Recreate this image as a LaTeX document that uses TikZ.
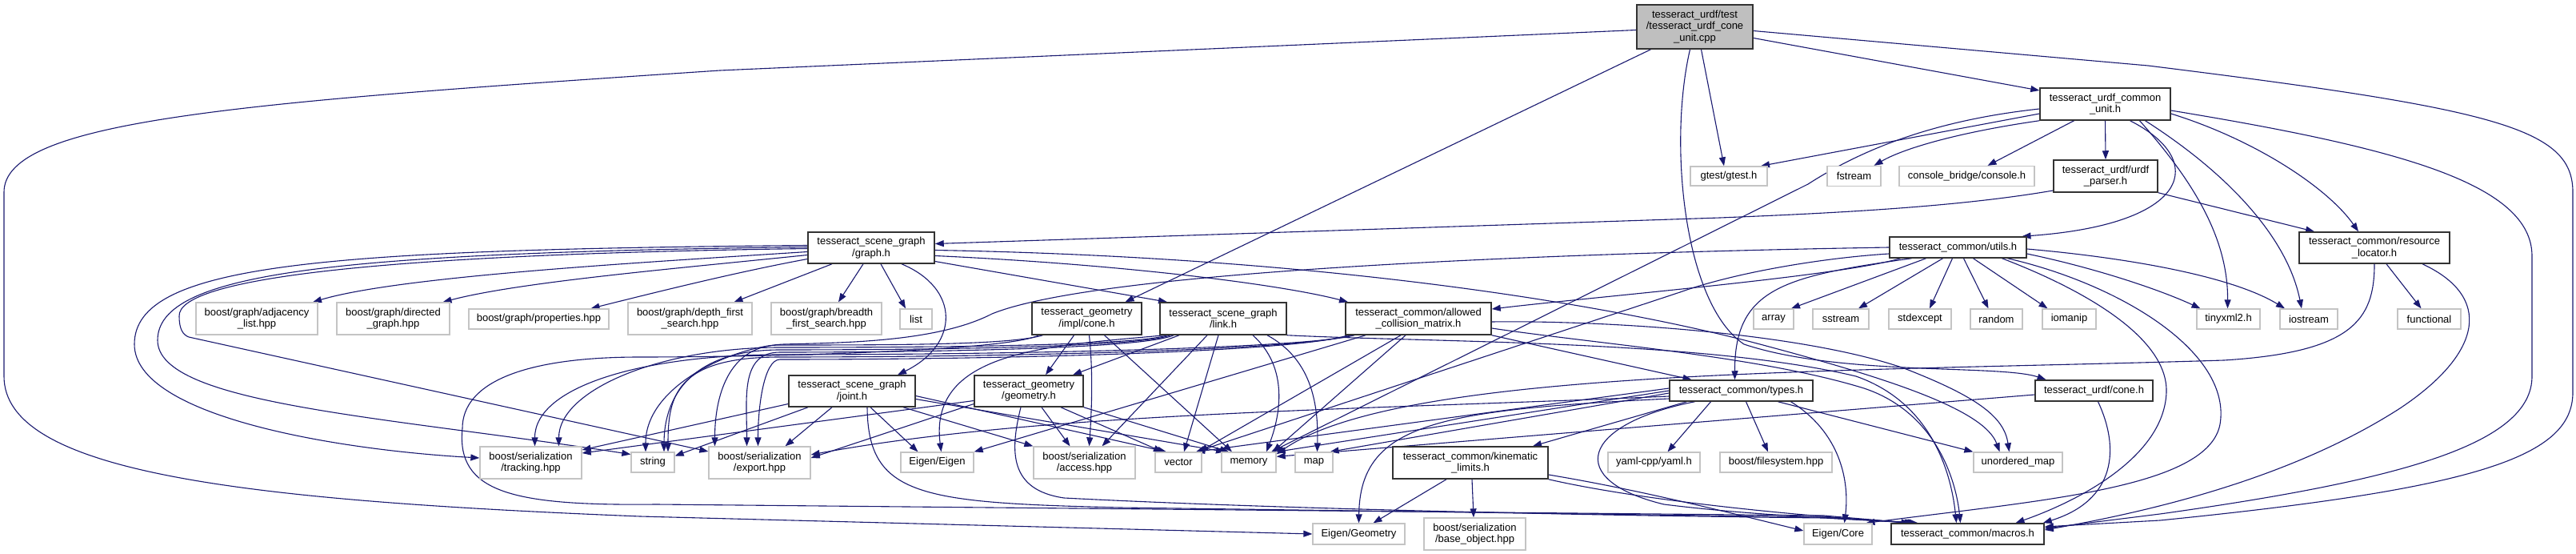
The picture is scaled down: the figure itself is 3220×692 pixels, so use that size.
\documentclass[tikz,border=0pt]{standalone}
\usepackage{fontspec}
\setmainfont{Liberation Sans}
\usetikzlibrary{arrows.meta}
\pgfdeclarelayer{bg}
\pgfsetlayers{bg,main}
\definecolor{edgec}{HTML}{191970}
\definecolor{nodeb}{HTML}{333333}
\definecolor{grayb}{HTML}{C4C4C4}
\definecolor{rootf}{HTML}{BFBFBF}
\begin{document}
\begin{tikzpicture}[x=1pt,y=-1pt,
  every node/.style={font=\fontsize{13}{14.6}\selectfont, inner sep=0pt, align=center},
  bk/.style={draw=nodeb, line width=1.5pt, fill=white},
  gr/.style={draw=grayb, line width=1.3pt, fill=white},
  rt/.style={draw=nodeb, line width=1.5pt, fill=rootf},
  e/.style={draw=edgec, line width=1.1pt, -{Triangle[length=11pt,width=8pt]}}
]
\useasboundingbox (0,0) rectangle (3220,692);
% nodes
\node[rt, minimum width=145pt, minimum height=55pt] (root) at (2118.5,33.5) {tesseract\_urdf/test\\/tesseract\_urdf\_cone\\\_unit.cpp};
\node[bk, minimum width=163pt, minimum height=40pt] (ucu) at (2631.5,130) {tesseract\_urdf\_common\\\_unit.h};
\node[gr, minimum width=96pt, minimum height=24pt] (gtest) at (2161,220) {gtest/gtest.h};
\node[gr, minimum width=67pt, minimum height=25pt] (fstream) at (2317.5,220) {fstream};
\node[gr, minimum width=169pt, minimum height=25pt] (console) at (2458.5,220) {console\_bridge/console.h};
\node[bk, minimum width=130pt, minimum height=40pt] (parser) at (2632,220) {tesseract\_urdf/urdf\\\_parser.h};
\node[bk, minimum width=158pt, minimum height=39pt] (graph) at (1089,309.5) {tesseract\_scene\_graph\\/graph.h};
\node[bk, minimum width=171pt, minimum height=26pt] (utils) at (2447.5,309) {tesseract\_common/utils.h};
\node[bk, minimum width=188pt, minimum height=39pt] (resloc) at (2968,309.5) {tesseract\_common/resource\\\_locator.h};
\node[gr, minimum width=152pt, minimum height=40pt] (adj) at (321,398) {boost/graph/adjacency\\\_list.hpp};
\node[gr, minimum width=141pt, minimum height=40pt] (directed) at (491.5,398) {boost/graph/directed\\\_graph.hpp};
\node[gr, minimum width=175pt, minimum height=25pt] (props) at (673.5,398.5) {boost/graph/properties.hpp};
\node[gr, minimum width=155pt, minimum height=40pt] (dfs) at (862.5,398) {boost/graph/depth\_first\\\_search.hpp};
\node[gr, minimum width=138pt, minimum height=40pt] (bfs) at (1033,398) {boost/graph/breadth\\\_first\_search.hpp};
\node[gr, minimum width=40pt, minimum height=25pt] (list) at (1145,398.5) {list};
\node[bk, minimum width=137pt, minimum height=40pt] (gcone) at (1358.5,398) {tesseract\_geometry\\/impl/cone.h};
\node[bk, minimum width=158pt, minimum height=40pt] (link) at (1529,398) {tesseract\_scene\_graph\\/link.h};
\node[bk, minimum width=182pt, minimum height=40pt] (acm) at (1773,398) {tesseract\_common/allowed\\\_collision\_matrix.h};
\node[gr, minimum width=50pt, minimum height=25pt] (array) at (2217,398.5) {array};
\node[gr, minimum width=70pt, minimum height=25pt] (sstream) at (2301,398.5) {sstream};
\node[gr, minimum width=78pt, minimum height=25pt] (stdexcept) at (2400,398.5) {stdexcept};
\node[gr, minimum width=65pt, minimum height=25pt] (random) at (2495.5,398.5) {random};
\node[gr, minimum width=67pt, minimum height=25pt] (iomanip) at (2586.5,398.5) {iomanip};
\node[gr, minimum width=79pt, minimum height=25pt] (tinyxml) at (2785.5,398.5) {tinyxml2.h};
\node[gr, minimum width=72pt, minimum height=25pt] (iostream) at (2886,398.5) {iostream};
\node[gr, minimum width=79pt, minimum height=25pt] (functional) at (3036.5,398.5) {functional};
\node[bk, minimum width=158pt, minimum height=39pt] (joint) at (1065,488.5) {tesseract\_scene\_graph\\/joint.h};
\node[bk, minimum width=136pt, minimum height=39pt] (geometry) at (1286,488.5) {tesseract\_geometry\\/geometry.h};
\node[bk, minimum width=179pt, minimum height=26pt] (types) at (2176.5,488) {tesseract\_common/types.h};
\node[bk, minimum width=147pt, minimum height=26pt] (ucone) at (2617.5,488) {tesseract\_urdf/cone.h};
\node[gr, minimum width=127pt, minimum height=40pt] (tracking) at (663.5,578) {boost/serialization\\/tracking.hpp};
\node[gr, minimum width=54pt, minimum height=25pt] (string) at (816,577.5) {string};
\node[gr, minimum width=127pt, minimum height=40pt] (export) at (949.5,578) {boost/serialization\\/export.hpp};
\node[gr, minimum width=91pt, minimum height=25pt] (eigen) at (1171.5,577.5) {Eigen/Eigen};
\node[gr, minimum width=127pt, minimum height=40pt] (access) at (1355.5,578) {boost/serialization\\/access.hpp};
\node[gr, minimum width=58pt, minimum height=25pt] (vector) at (1473,577.5) {vector};
\node[gr, minimum width=68pt, minimum height=25pt] (memory) at (1561,577.5) {memory};
\node[gr, minimum width=47pt, minimum height=25pt] (map) at (1642.5,577.5) {map};
\node[bk, minimum width=194pt, minimum height=40pt] (kin) at (1838,578) {tesseract\_common/kinematic\\\_limits.h};
\node[gr, minimum width=115pt, minimum height=25pt] (yaml) at (2067.5,577.5) {yaml-cpp/yaml.h};
\node[gr, minimum width=140pt, minimum height=25pt] (fs) at (2220,577.5) {boost/filesystem.hpp};
\node[gr, minimum width=111pt, minimum height=25pt] (umap) at (2522.5,577.5) {unordered\_map};
\node[gr, minimum width=115pt, minimum height=26pt] (egeom) at (1698.5,667) {Eigen/Geometry};
\node[gr, minimum width=127pt, minimum height=40pt] (base) at (1843.5,667) {boost/serialization\\/base\_object.hpp};
\node[gr, minimum width=85pt, minimum height=26pt] (ecore) at (2297.5,667) {Eigen/Core};
\node[bk, minimum width=191pt, minimum height=26pt] (macros) at (2459.5,667) {tesseract\_common/macros.h};

\begin{pgfonlayer}{bg}
\fill[white] (0,0) rectangle (3220,692);
% root
\draw[e] ([yshift=-4pt]root.west) -- (900,88) .. controls (300,128) and (5,150) .. (5,240) -- (5,470) .. controls (5,590) and (300,625) .. (800,645) -- (egeom.west);
\draw[e] ([xshift=-55pt]root.south) -- ([xshift=48pt]gcone.north);
\draw[e] ([xshift=8pt]root.south) -- ([xshift=-6pt]gtest.north);
\draw[e] ([yshift=-14pt]root.east) -- ([yshift=17pt]ucu.west);
\draw[e] ([yshift=-5pt]root.east) -- (2685,82) .. controls (3120,136) and (3216,160) .. (3216,240) -- (3216,490) .. controls (3216,570) and (3100,610) .. (2700,650) -- ([yshift=9pt]macros.east);
\draw[e] ([xshift=-6pt]root.south) .. controls (2085,180) and (2105,380) .. (2180,430) .. controls (2300,470) and (2500,455) .. ([xshift=-60pt]ucone.north);
% ucu
\draw[e] ([yshift=-12pt]ucu.west) -- ([xshift=40pt]gtest.north);
\draw[e] (ucu.south west) .. controls (2450,165) and (2380,185) .. ([xshift=25pt]fstream.north);
\draw[e] ([xshift=-39pt]ucu.south) -- ([xshift=26pt]console.north);
\draw[e] (ucu.south) -- (parser.north);
\draw[e] ([xshift=31pt]ucu.south) .. controls (2760,200) and (2740,280) .. ([xshift=80pt]utils.north);
\draw[e] ([xshift=43pt]ucu.south) .. controls (2745,230) and (2785,300) .. ([xshift=-1pt]tinyxml.north);
\draw[e] ([xshift=50pt]ucu.south) .. controls (2790,220) and (2860,300) .. ([xshift=-9pt]iostream.north);
\draw[e] ([yshift=-12pt]ucu.east) .. controls (2820,175) and (2910,235) .. ([xshift=-20pt]resloc.north);
\draw[e] ([yshift=-8pt]ucu.east) .. controls (3000,185) and (3165,230) .. (3165,320) -- (3165,470) .. controls (3165,555) and (3000,600) .. (2700,642) -- ([yshift=7pt]macros.east);
\draw[e] ([yshift=-6pt]ucu.west) .. controls (2420,150) and (2330,185) .. (2260,230) -- ([xshift=28pt]memory.north);
% parser
\draw[e] ([yshift=-18pt]parser.west) .. controls (2450,258) and (2300,266) .. (2150,272) -- ([yshift=5pt]graph.east);
\draw[e] (parser.south east) -- ([xshift=-75pt]resloc.north);
% utils
\draw[e] ([xshift=-40pt]utils.south) -- ([xshift=22pt]array.north);
\draw[e] ([xshift=-19pt]utils.south) -- ([xshift=22pt]sstream.north);
\draw[e] ([xshift=-7pt]utils.south) -- ([xshift=12pt]stdexcept.north);
\draw[e] ([xshift=7pt]utils.south) -- ([xshift=-10pt]random.north);
\draw[e] ([xshift=19pt]utils.south) -- ([xshift=-27pt]iomanip.north);
\draw[e] ([yshift=-8pt]utils.east) .. controls (2620,335) and (2700,362) .. ([xshift=-35pt]tinyxml.north);
\draw[e] ([yshift=-2pt]utils.east) .. controls (2660,322) and (2790,345) .. ([xshift=-30pt]iostream.north);
\draw[e] (utils.west) .. controls (2000,315) and (1380,335) .. (1240,392) .. controls (1170,428) and (1050,428) .. (980,430) .. controls (920,432) and (807,480) .. ([xshift=-9pt]string.north);
\draw[e] ([yshift=-8pt]utils.west) .. controls (2280,322) and (2170,340) .. (2100,365) -- ([xshift=22pt]vector.north);
\draw[e] ([xshift=-72pt]utils.south) .. controls (2300,345) and (2000,370) .. ([yshift=12pt]acm.east);
\draw[e] ([xshift=-58pt]utils.south) .. controls (2230,345) and (2168,360) .. ([xshift=-8pt]types.north);
\draw[e] ([xshift=55pt]utils.south) .. controls (2600,360) and (2710,420) .. (2708,490) .. controls (2705,570) and (2600,625) .. ([xshift=60pt]macros.north);
\draw[e] ([xshift=62pt]utils.south) .. controls (2650,355) and (2790,440) .. (2775,530) .. controls (2760,610) and (2550,625) .. ([xshift=35pt]ecore.north);
% resloc
\draw[e] ([xshift=15pt]resloc.south) -- ([xshift=-10pt]functional.north);
\draw[e] (resloc.south) .. controls (2968,400) and (2940,440) .. (2780,450) .. controls (2300,465) and (1750,460) .. ([yshift=-3pt]memory.north east);
\draw[e] ([xshift=60pt]resloc.south) .. controls (3115,370) and (3105,440) .. (3000,510) .. controls (2860,600) and (2680,640) .. ([yshift=5pt]macros.east);
% ucone
\draw[e] ([xshift=5pt]ucone.south) .. controls (2650,560) and (2645,625) .. ([xshift=-2pt]macros.north east);
\draw[e] ([yshift=-5pt]ucone.west) -- ([yshift=-6pt]memory.north east);
% graph
\draw[e] ([yshift=-5pt]graph.west) .. controls (800,328) and (500,345) .. ([xshift=70pt]adj.north);
\draw[e] ([yshift=-9pt]graph.west) .. controls (850,335) and (650,352) .. ([xshift=62pt]directed.north);
\draw[e] ([yshift=-14pt]graph.west) .. controls (920,340) and (820,365) .. ([xshift=65pt]props.north);
\draw[e] ([xshift=-49pt]graph.south) -- ([xshift=55pt]dfs.north);
\draw[e] ([xshift=-10pt]graph.south) -- ([xshift=15pt]bfs.north);
\draw[e] ([xshift=12pt]graph.south) -- ([xshift=-13pt]list.north);
\draw[e] ([xshift=38pt]graph.south) .. controls (1200,360) and (1200,430) .. ([xshift=57pt]joint.north);
\draw[e] ([yshift=-17pt]graph.east) -- ([xshift=-70pt]link.north);
\draw[e] ([yshift=-10pt]graph.east) .. controls (1400,330) and (1600,355) .. ([xshift=-88pt]acm.north);
\draw[e] ([yshift=-3pt]graph.east) .. controls (1700,322) and (2050,390) .. (2200,430) .. controls (2350,470) and (2480,510) .. ([xshift=-23pt]umap.north);
\draw[e] ([yshift=3pt]graph.west) .. controls (400,312) and (168,330) .. (168,430) .. controls (168,520) and (420,562) .. ([yshift=6pt]tracking.west);
\draw[e] ([yshift=1pt]graph.west) .. controls (420,316) and (197,340) .. (197,425) .. controls (197,505) and (480,520) .. ([yshift=10pt]string.west);
\draw[e] ([yshift=-1pt]graph.west) .. controls (450,318) and (222,350) .. (224,395) .. controls (224,410) and (228,418) .. (236,421) -- ([yshift=14pt]export.west);
% gcone
\draw[e] ([xshift=-16pt]gcone.south) -- ([xshift=21pt]geometry.north);
\draw[e] ([xshift=3pt]gcone.south) .. controls (1367,470) and (1364,520) .. ([xshift=6pt]access.north);
\draw[e] ([xshift=22pt]gcone.south) -- ([xshift=-21pt]memory.north);
\draw[e] ([xshift=-55pt]gcone.south) .. controls +(-40,12) and +(150,0) .. (975,431) .. controls +(-60,0) and +(0,-70) .. ([xshift=-56pt]export.north);
\draw[e] ([xshift=-60pt]gcone.south) .. controls +(-40,20) and +(150,0) .. (800,446) .. controls (650,446) and (578,480) .. (578,535) .. controls (570,615) and (640,632) .. (820,630) -- (2280,644) -- ([xshift=-72pt]macros.north);
% link
\draw[e] ([xshift=-55pt]link.south) -- ([xshift=55pt]geometry.north);
\draw[e] ([xshift=-20pt]link.south) -- ([xshift=22pt]access.north);
\draw[e] ([xshift=-6pt]link.south) -- ([xshift=7pt]vector.north);
\draw[e] ([xshift=37pt]link.south) .. controls (1612,460) and (1600,520) .. ([xshift=22pt]memory.north);
\draw[e] ([xshift=55pt]link.south) .. controls (1642,450) and (1648,510) .. ([xshift=4pt]map.north);
\draw[e] ([xshift=-74pt]link.south) .. controls (1320,432) and (1160,435) .. ([xshift=5pt]eigen.north);
\draw[e] ([xshift=-70pt]link.south) .. controls +(-40,14) and +(150,0) .. (975,434) .. controls +(-150,0) and +(0,-70) .. ([xshift=35pt]tracking.north);
\draw[e] ([xshift=-66pt]link.south) .. controls +(-40,16) and +(150,0) .. (975,437) .. controls +(-110,0) and +(0,-70) .. ([xshift=14pt]string.north);
\draw[e] ([xshift=-62pt]link.south) .. controls +(-40,18) and +(150,0) .. (975,440) .. controls +(-50,0) and +(0,-60) .. ([xshift=-16pt]export.north);
\draw[e] (link.south east) .. controls (1800,428) and (2130,425) .. (2320,470) .. controls (2420,505) and (2440,600) .. ([xshift=-14pt]macros.north);
% acm
\draw[e] (acm.south east) -- ([xshift=-62pt]types.north);
\draw[e] ([xshift=-66pt]acm.south) -- (eigen.north east);
\draw[e] ([xshift=-22pt]acm.south) -- ([xshift=26pt]vector.north);
\draw[e] ([xshift=-16pt]acm.south) -- ([xshift=30pt]memory.north);
\draw[e] ([xshift=-80pt]acm.south) .. controls +(-60,16) and +(300,0) .. (975,443) .. controls +(-170,0) and +(0,-75) .. ([xshift=5pt]tracking.north);
\draw[e] ([xshift=-84pt]acm.south) .. controls +(-60,18) and +(300,0) .. (975,446) .. controls +(-130,0) and +(0,-70) .. ([xshift=19pt]string.north);
\draw[e] ([xshift=-88pt]acm.south) .. controls +(-60,20) and +(300,0) .. (975,449) .. controls +(-20,0) and +(0,-50) .. ([xshift=-2pt]export.north);
\draw[e] ([yshift=-4pt]acm.east) .. controls (2000,400) and (2250,415) .. (2380,460) .. controls (2470,495) and (2505,520) .. ([xshift=-11pt]umap.north);
\draw[e] ([yshift=-12pt]acm.east) .. controls (2000,430) and (2200,445) .. (2330,485) .. controls (2420,515) and (2445,600) .. ([xshift=-9pt]macros.north);
% types
\draw[e] ([xshift=-68pt]types.south) -- ([xshift=78pt]kin.north);
\draw[e] ([xshift=-38pt]types.south) -- ([xshift=17pt]yaml.north);
\draw[e] ([xshift=6pt]types.south) -- ([xshift=-10pt]fs.north);
\draw[e] ([xshift=46pt]types.south) -- (umap.north west);
\draw[e] ([xshift=62pt]types.south) .. controls (2300,540) and (2312,600) .. ([xshift=8pt]ecore.north);
\draw[e] ([xshift=-58pt]types.south) .. controls (1975,530) and (1955,600) .. (2080,630) .. controls (2200,645) and (2320,648) .. ([xshift=-64pt]macros.north);
\draw[e] ([yshift=-10pt]types.west) .. controls (1800,512) and (1700,528) .. (egeom.north);
\draw[e] ([yshift=-3pt]types.west) -- ([xshift=20pt]map.north);
\draw[e] (types.west) -- (memory.north east);
\draw[e] ([yshift=3pt]types.west) -- ([xshift=22pt]vector.north);
\draw[e] ([yshift=-7pt]types.west) .. controls (1700,512) and (1300,515) .. ([yshift=10pt]export.east);
% joint
\draw[e] ([yshift=-16pt]joint.west) -- ([yshift=16pt]tracking.east);
\draw[e] ([xshift=-55pt]joint.south) -- ([yshift=8pt]string.east);
\draw[e] ([xshift=-25pt]joint.south) -- ([xshift=32pt]export.north);
\draw[e] ([xshift=23pt]joint.south) -- ([xshift=-24pt]eigen.north);
\draw[e] ([xshift=64pt]joint.south) -- (access.north west);
\draw[e] ([yshift=-6pt]joint.east) -- ([xshift=-15pt]vector.north);
\draw[e] ([yshift=-10pt]joint.east) -- ([xshift=-30pt]memory.north);
\draw[e] ([xshift=19pt]joint.south) .. controls (1085,620) and (1150,628) .. (1400,634) -- (2280,646) -- ([xshift=-68pt]macros.north);
% geometry
\draw[e] ([xshift=16pt]geometry.south) -- ([xshift=-18pt]access.north);
\draw[e] ([xshift=40pt]geometry.south) -- ([xshift=-20pt]vector.north);
\draw[e] (geometry.south east) -- ([xshift=-25pt]memory.north);
\draw[e] ([yshift=-12pt]geometry.west) -- ([yshift=12pt]tracking.east);
\draw[e] ([yshift=-16pt]geometry.west) -- ([yshift=6pt]export.east);
\draw[e] ([xshift=-10pt]geometry.south) .. controls (1262,565) and (1262,612) .. (1330,622) .. controls (1600,636) and (2000,644) .. (2280,647) -- ([xshift=-66pt]macros.north);
% kin
\draw[e] ([xshift=-30pt]kin.south) -- ([xshift=18pt]egeom.north);
\draw[e] ([xshift=2pt]kin.south) -- ([xshift=-1.5pt]base.north);
\draw[e] (kin.south east) .. controls (2050,625) and (2250,645) .. ([xshift=-62pt]macros.north);
\draw[e] ([yshift=-15pt]kin.east) .. controls (2050,612) and (2160,640) .. ([yshift=4pt]ecore.west);
\end{pgfonlayer}
\end{tikzpicture}
\end{document}
